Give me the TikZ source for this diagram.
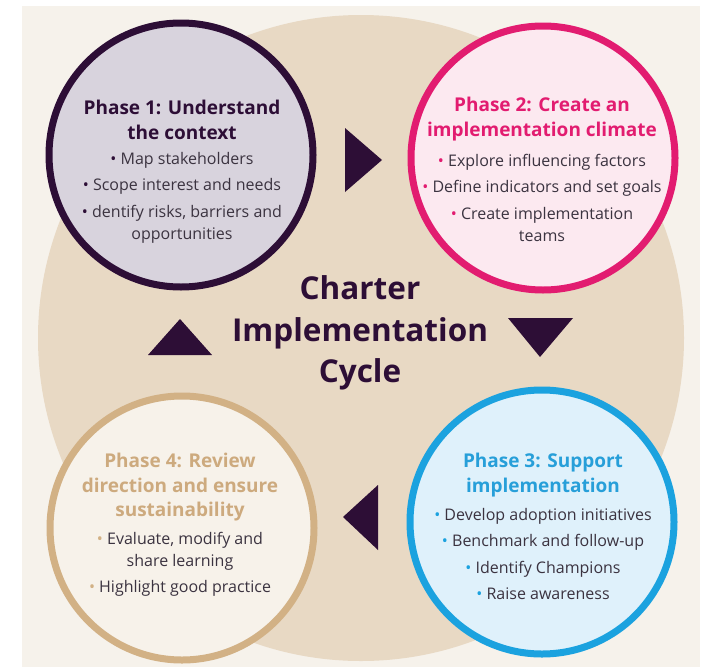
\documentclass[tikz,border=0pt]{standalone}
\usepackage{fontspec}
\setmainfont{Open Sans}
\definecolor{panel}{HTML}{F6F2EB}
\definecolor{beige}{HTML}{E8D9C4}
\definecolor{dpurple}{HTML}{2D0E36}
\definecolor{pinkc}{HTML}{E21C70}
\definecolor{bluec}{HTML}{1BA2DF}
\definecolor{tanc}{HTML}{D2B185}
\definecolor{tantext}{HTML}{CDAA7E}
\definecolor{bluetext}{HTML}{279FD9}
\definecolor{fillone}{HTML}{D8D3DD}
\definecolor{filltwo}{HTML}{FCE9F0}
\definecolor{fillthree}{HTML}{DFF1FB}
\definecolor{fillfour}{HTML}{F7F2EA}
\definecolor{bodytext}{HTML}{3B3340}
\tikzset{
  phasecircle/.style={circle, line width=7pt, minimum size=264pt, inner sep=0pt},
  phasetitle/.style={align=center, font=\fontsize{19}{25}\selectfont\bfseries, inner sep=0pt},
  phasebody/.style={align=center, font=\fontsize{16}{22}\selectfont, text=bodytext, inner sep=0pt},
  marker/.style={fill=dpurple},
}
\begin{document}
\begin{tikzpicture}[x=1pt,y=-1pt]
\useasboundingbox (0,0) rectangle (704,667);
\fill[white] (0,0) rectangle (704,667);
\fill[panel] (22,6) rectangle (700,667);
\fill[beige] (361,338) circle[radius=323];
% phase circles
\node[phasecircle, draw=dpurple, fill=fillone] (p1) at (181,155) {};
\node[phasecircle, draw=pinkc, fill=filltwo] (p2) at (543,158) {};
\node[phasecircle, draw=bluec, fill=fillthree] (p3) at (542,522) {};
\node[phasecircle, draw=tanc, fill=fillfour] (p4) at (182,528) {};
% phase 1 text
\node[phasetitle, text=dpurple] (t1) at (182,119.5) {Phase 1: Understand\\the context};
\node[phasebody] (b1) at (182,197.5) {\textcolor{dpurple}{•} Map stakeholders\\[4.5pt]
\textcolor{dpurple}{•} Scope interest and needs\\[4.5pt]
\textcolor{dpurple}{•} dentify risks, barriers and\\opportunities};
% phase 2 text
\node[phasetitle, text=pinkc] (t2) at (542,119.5) {Phase 2: Create an\\implementation climate};
\node[phasebody] (b2) at (542,197.5) {\textcolor{pinkc}{•} Explore influencing factors\\[4.5pt]
\textcolor{pinkc}{•} Define indicators and set goals\\[4.5pt]
\textcolor{pinkc}{•} Create implementation\\teams};
% phase 3 text
\node[phasetitle, text=bluetext] (t3) at (543,475) {Phase 3: Support\\implementation};
\node[phasebody, font=\fontsize{16}{26.5}\selectfont] (b3) at (543,554) {\textcolor{bluec}{•} Develop adoption initiatives\\
\textcolor{bluec}{•} Benchmark and follow-up\\
\textcolor{bluec}{•} Identify Champions\\
\textcolor{bluec}{•} Raise awareness};
% phase 4 text
\node[phasetitle, text=tantext, font=\fontsize{19}{24.5}\selectfont\bfseries] (t4) at (180,487.5) {Phase 4: Review\\direction and ensure\\sustainability};
\node[phasebody] (b4) at (180,564) {\textcolor{tanc}{•} Evaluate, modify and\\share learning\\[4pt]
\textcolor{tanc}{•} Highlight good practice};
% centre title
\node[align=center, font=\fontsize{31.5}{41.5}\selectfont\bfseries, text=dpurple, inner sep=0pt] (ctr) at (360,333) {Charter\\Implementation\\Cycle};
% direction markers
\fill[marker] (345,128) -- (345,192) -- (382,160) -- cycle;
\fill[marker] (508,318) -- (573,318) -- (540,357) -- cycle;
\fill[marker] (378,485) -- (378,550) -- (343,517) -- cycle;
\fill[marker] (148,355) -- (212,355) -- (180,319) -- cycle;
\end{tikzpicture}
\end{document}
